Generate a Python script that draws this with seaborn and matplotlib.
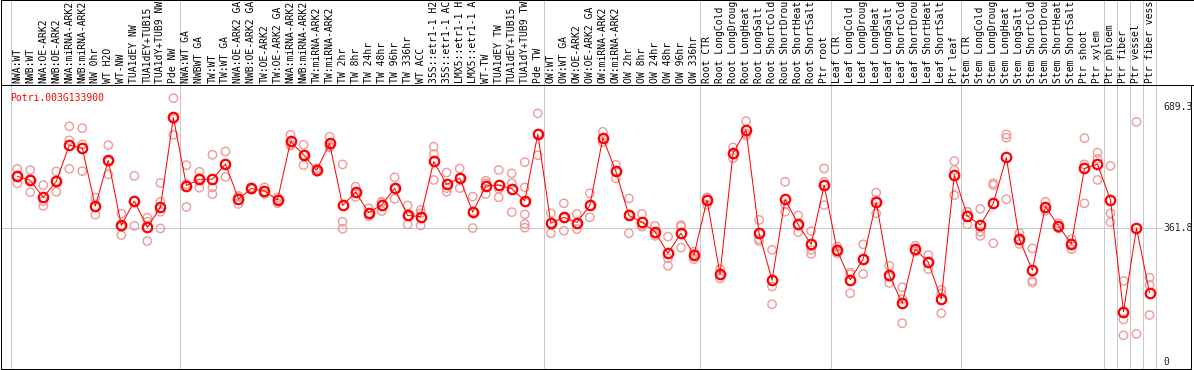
import numpy as np
import pandas as pd
import matplotlib
matplotlib.use("Agg")
import matplotlib.pyplot as plt
import seaborn as sns

# ---- data ----
gene = "Potri.003G133900"

group_sizes = [13, 28, 12, 10, 10, 11, 1, 1, 1, 1]

sample_labels = [
    "NWA:WT", "NWB:WT", "NWA:OE-ARK2", "NWB:OE-ARK2", "NWA:miRNA-ARK2",
    "NWB:miRNA-ARK2", "NW 0hr", "WT H2O", "WT-NW", "TUA1dEY NW",
    "TUA1dEY+TUB15", "TUA1dY+TUB9 NW", "Pde NW",
    "NWA:WT GA", "NWBWT GA", "TW:WT", "TW:WT GA", "NWA:OE-ARK2 GA",
    "NWB:OE-ARK2 GA", "TW:OE-ARK2", "TW:OE-ARK2 GA", "NWA:miRNA-ARK2",
    "NWB:miRNA-ARK2", "TW:miRNA-ARK2", "TW:miRNA-ARK2", "TW 2hr", "TW 8hr",
    "TW 24hr", "TW 48hr", "TW 96hr", "TW 336hr", "WT ACC", "35S::etr1-1 H2",
    "35S::etr1-1 AC", "LMX5::etr1-1 H", "LMX5::etr1-1 A", "WT-TW",
    "TUA1dEY TW", "TUA1dEY+TUB15", "TUA1dY+TUB9 TW", "Pde TW",
    "OW:WT", "OW:WT GA", "OW:OE-ARK2", "OW:OE-ARK2 GA", "OW:miRNA-ARK2",
    "OW:miRNA-ARK2", "OW 2hr", "OW 8hr", "OW 24hr", "OW 48hr", "OW 96hr",
    "OW 336hr",
    "Root CTR", "Root LongCold", "Root LongDroug", "Root LongHeat",
    "Root LongSalt", "Root ShortCold", "Root ShortDrou", "Root ShortHeat",
    "Root ShortSalt", "Ptr root",
    "Leaf CTR", "Leaf LongCold", "Leaf LongDroug", "Leaf LongHeat",
    "Leaf LongSalt", "Leaf ShortCold", "Leaf ShortDrou", "Leaf ShortHeat",
    "Leaf ShortSalt", "Ptr leaf",
    "Stem CTR", "Stem LongCold", "Stem LongDroug", "Stem LongHeat",
    "Stem LongSalt", "Stem ShortCold", "Stem ShortDrou", "Stem ShortHeat",
    "Stem ShortSalt", "Ptr shoot", "Ptr xylem",
    "Ptr phloem", "Ptr fiber", "Ptr vessel", "Ptr fiber vess",
]

mean_values = [
    502, 491, 445, 488, 586, 578, 421, 545, 369, 435, 364, 418, 661,
    477, 494, 494, 535, 441, 469, 462, 438, 596, 560, 518, 591, 423, 459,
    404, 424, 469, 396, 393, 542, 480, 497, 405, 476, 478, 468, 436, 616,
    375, 391, 377, 423, 606, 515, 396, 378, 352, 294, 348, 289,
    438, 237, 564, 627, 348, 221, 440, 372, 318, 478,
    302, 222, 278, 432, 235, 159, 305, 270, 170, 505,
    395, 370, 429, 553, 332, 248, 420, 368, 319, 523, 535,
    438, 136, 362, 187,
]

replicate_values = [
    [522, 483, 501], [519, 459, 495], [478, 422, 435], [515, 460, 489],
    [637, 599, 522], [632, 588, 516], [444, 420, 398], [586, 507, 542],
    [401, 343, 365], [503, 368, 435], [390, 327, 379], [484, 433, 406, 361],
    [713, 614, 657],
    [532, 419, 480], [514, 471, 497], [560, 472, 454], [569, 500, 535],
    [449, 427, 446], [472, 466, 469], [472, 454, 461], [445, 429, 439],
    [614, 585, 588], [587, 532, 560], [523, 514, 518], [609, 580, 584],
    [534, 379, 360], [474, 456, 446], [415, 402, 394], [433, 408, 431],
    [499, 441, 468], [423, 372, 394], [411, 402, 369], [582, 562, 492],
    [512, 460, 470], [523, 470, 498], [447, 362, 407], [490, 454, 483],
    [519, 445, 468], [510, 483, 405], [540, 472, 432, 399, 373, 363],
    [672, 559, 617],
    [402, 348, 375], [429, 355, 389], [400, 359, 374], [456, 391, 423],
    [622, 594, 603], [533, 496, 516], [442, 348, 399], [400, 366, 367],
    [368, 341, 347], [339, 280, 260], [370, 366, 309], [298, 278, 291],
    [445, 424, 444], [251, 226, 235], [580, 551, 561], [651, 618, 612],
    [384, 327, 332], [303, 204, 156], [487, 406, 425], [396, 351, 369],
    [354, 303, 292], [523, 487, 424],
    [312, 294, 300], [242, 186, 237], [318, 238, 277], [458, 402, 438],
    [260, 214, 230], [202, 105, 170], [314, 298, 302], [289, 251, 269],
    [195, 132, 185], [543, 519, 451],
    [406, 372, 406], [414, 352, 341], [483, 321, 478], [615, 606, 440],
    [348, 319, 328], [307, 220, 215], [433, 409, 417], [375, 361, 367],
    [332, 305, 320], [605, 534, 429], [566, 549, 492],
    [530, 402, 378], [219, 115, 72], [649, 76], [228, 208, 127],
]

y_tick_values = [0, 361.8, 689.3]
y_tick_labels = ["0", "361.8", "689.3"]

# ---- layout (pixels of the 1194x370 picture) ----
W, H = 1194, 370
col_left, col_pitch = 10.7, 13.015      # first column edge, column width
zero_row, px_per_unit = 362.0, 0.37     # pixel row of value 0, pixels per unit


def col_of(px):
    return (px - col_left) / col_pitch - 0.5


def val_of(py):
    return (zero_row - py) / px_per_unit


def fig_box(x0, y0, x1, y1):
    return [x0 / W, 1 - y1 / H, (x1 - x0) / W, (y1 - y0) / H]


sns.set_style("white")
plt.rcParams["font.family"] = ["DejaVu Sans Mono", "DejaVu Sans"]
plt.rcParams["font.size"] = 7

line_red = "#ff0000"
rep_red = "#ef9a9a"
grid_grey = "#c8c8c8"
lw_px = 0.72

n = len(sample_labels)
positions = np.arange(n)
boundaries = np.cumsum([0] + group_sizes) - 0.5

means_df = pd.DataFrame({"pos": positions, "value": mean_values})
reps_df = pd.DataFrame(
    [(i, v) for i, vals in enumerate(replicate_values) for v in vals],
    columns=["pos", "value"],
)

fig = plt.figure(figsize=(W / 100, H / 100), dpi=100)

# header with rotated sample names
hdr = fig.add_axes(fig_box(1, 0, 1194, 85))
hdr.set_xlim(col_of(1), col_of(1194))
hdr.set_ylim(0, 1)
hdr.set_xticks([])
hdr.set_yticks([])
for side in ["left", "top", "bottom"]:
    hdr.spines[side].set_color("black")
    hdr.spines[side].set_linewidth(lw_px)
hdr.spines["right"].set_visible(False)
for b in boundaries:
    hdr.axvline(b, color=grid_grey, lw=lw_px)
for i, lab in enumerate(sample_labels):
    hdr.text(i, 2 / 85, lab, rotation=90, ha="center", va="bottom",
             transform=hdr.get_xaxis_transform(), color="black")

# expression panel
ax = fig.add_axes(fig_box(1, 85, 1191, 369))
ax.set_xlim(col_of(1), col_of(1191))
ax.set_ylim(val_of(369), val_of(85))
for b in boundaries:
    ax.axvline(b, color=grid_grey, lw=lw_px, zorder=0)
ax.hlines(361.8, col_of(1), col_of(1162), color=grid_grey, lw=lw_px, zorder=0)

sns.scatterplot(data=reps_df, x="pos", y="value", ax=ax, marker="o",
                s=36, facecolor="none", edgecolor=rep_red, linewidth=1.0,
                zorder=2, legend=False)
sns.lineplot(data=means_df, x="pos", y="value", ax=ax, sort=False,
             color=line_red, lw=lw_px, marker="o", markersize=6.8,
             markerfacecolor="none", markeredgecolor=line_red,
             markeredgewidth=1.6, zorder=3, legend=False)

ax.text(col_of(10), val_of(97.5), gene, color=line_red, ha="left",
        va="center")
for v, t in zip(y_tick_values, y_tick_labels):
    ax.text(col_of(1163), v, t, ha="left", va="center")

ax.set_xticks([])
ax.set_yticks([])
ax.set_xlabel("")
ax.set_ylabel("")
for side in ax.spines:
    ax.spines[side].set_color("black")
    ax.spines[side].set_linewidth(lw_px)

fig.savefig("out.png", dpi=100)
